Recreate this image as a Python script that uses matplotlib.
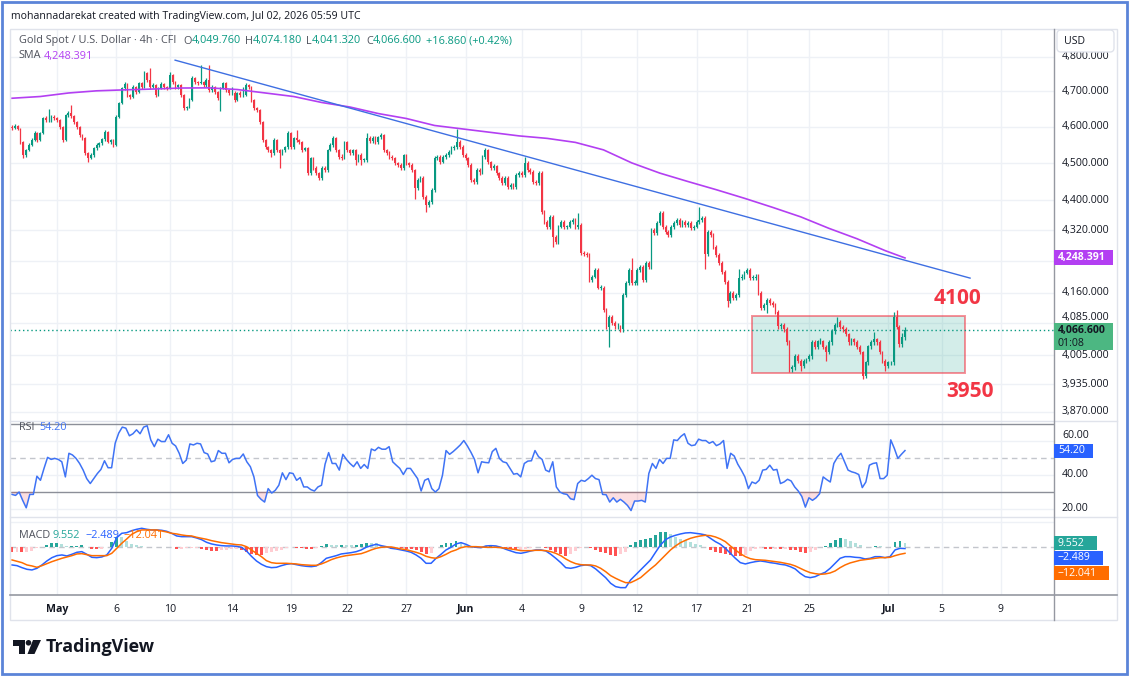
import numpy as np
import matplotlib
matplotlib.use("Agg")
import matplotlib.pyplot as plt
from matplotlib.patches import Rectangle, FancyBboxPatch, Polygon, Circle
from matplotlib.lines import Line2D
from matplotlib.ticker import NullLocator
from matplotlib.transforms import IdentityTransform

W, H = 1129, 676
plt.rcParams['font.family'] = ['Open Sans', 'DejaVu Sans']

# ---------------- data ----------------
first_open = 4599.7
last_open = 4049.76
closes = [
    4596.9, 4602.5, 4594.1, 4558.1, 4522.4, 4536.1, 4549.8, 4563.6, 4583.0, 4563.6,
    4583.0, 4624.8, 4619.2, 4619.2, 4627.7, 4624.8, 4619.2, 4599.7, 4563.6, 4633.3,
    4638.9, 4630.5, 4613.6, 4599.7, 4577.5, 4569.2, 4527.9, 4514.2, 4522.4, 4541.6,
    4549.8, 4555.3, 4566.4, 4585.8, 4558.1, 4563.6, 4549.8, 4627.7, 4667.1, 4709.7,
    4721.2, 4689.8, 4684.1, 4712.6, 4698.3, 4724.0, 4712.6, 4752.8, 4732.6, 4712.6,
    4718.3, 4689.8, 4709.7, 4721.2, 4712.6, 4709.7, 4747.0, 4726.9, 4712.6, 4718.3,
    4689.8, 4653.0, 4655.8, 4675.6, 4738.4, 4726.9, 4724.0, 4726.9, 4718.3, 4732.6,
    4704.0, 4712.6, 4698.3, 4681.3, 4709.7, 4724.0, 4704.0, 4695.5, 4695.5, 4675.6,
    4695.5, 4689.8, 4689.8, 4718.3, 4712.6, 4675.6, 4653.0, 4647.3, 4613.6, 4563.6,
    4544.3, 4536.1, 4527.9, 4563.6, 4536.1, 4527.9, 4536.1, 4544.3, 4583.0, 4544.3,
    4569.2, 4563.6, 4558.1, 4536.1, 4541.6, 4473.3, 4514.2, 4486.9, 4473.3, 4459.8,
    4486.9, 4481.5, 4536.1, 4549.8, 4569.2, 4536.1, 4516.9, 4514.2, 4558.1, 4536.1,
    4527.9, 4536.1, 4508.7, 4522.4, 4508.7, 4508.7, 4569.2, 4560.8, 4569.2, 4558.1,
    4572.0, 4577.5, 4536.1, 4527.9, 4516.9, 4514.2, 4500.5, 4495.1, 4486.9, 4522.4,
    4500.5, 4495.1, 4481.5, 4432.9, 4454.4, 4459.8, 4408.8, 4387.5, 4395.5, 4427.5,
    4514.2, 4516.9, 4503.3, 4516.9, 4522.4, 4530.6, 4541.6, 4544.3, 4558.1, 4544.3,
    4522.4, 4514.2, 4495.1, 4454.4, 4449.0, 4481.5, 4476.0, 4516.9, 4536.1, 4503.3,
    4486.9, 4492.3, 4473.3, 4459.8, 4446.3, 4459.8, 4435.6, 4441.0, 4435.6, 4467.9,
    4473.3, 4467.9, 4500.5, 4481.5, 4476.0, 4449.0, 4446.3, 4473.3, 4368.2, 4342.6,
    4329.5, 4355.0, 4303.4, 4290.4, 4329.5, 4342.6, 4329.5, 4329.5, 4342.6, 4347.9,
    4329.5, 4334.8, 4262.0, 4259.4, 4256.8, 4192.9, 4200.6, 4218.4, 4172.7, 4172.7,
    4117.5, 4072.9, 4100.1, 4085.2, 4075.4, 4075.4, 4068.0, 4155.0, 4185.3, 4218.4,
    4185.3, 4185.3, 4218.4, 4226.0, 4192.9, 4236.3, 4226.0, 4321.7, 4313.8, 4340.0,
    4365.5, 4329.5, 4316.5, 4308.6, 4329.5, 4340.0, 4347.9, 4334.8, 4342.6, 4334.8,
    4340.0, 4326.9, 4329.5, 4342.6, 4347.9, 4352.3, 4259.4, 4316.5, 4308.6, 4277.5,
    4256.8, 4236.3, 4213.3, 4187.9, 4140.0, 4160.1, 4147.5, 4155.0, 4198.0, 4200.6,
    4210.8, 4218.4, 4198.0, 4198.0, 4200.6, 4160.1, 4122.5, 4130.0, 4142.5, 4135.0,
    4130.0, 4112.5, 4075.4, 4080.3, 4068.0, 4036.1, 3970.7, 3975.5, 4002.1, 3990.0,
    3977.9, 3990.0, 3994.8, 4002.1, 4036.1, 4024.0, 4038.5, 4038.5, 4024.0, 4011.7,
    4036.1, 4063.1, 4080.3, 4087.7, 4072.9, 4068.0, 4055.7, 4036.1, 4043.4, 4036.1,
    4024.0, 4011.7, 3953.9, 3987.5, 4026.4, 4036.1, 4043.4, 4036.1, 4011.7, 3990.0,
    3977.9, 3987.5, 3987.5, 4100.1, 4072.9, 4031.2, 4049.8, 4066.6,
]
highs = [
    4604, 4607, 4606, 4597, 4561, 4540, 4554, 4568, 4588, 4586,
    4587, 4629, 4630, 4650, 4632, 4633, 4628, 4622, 4603, 4637,
    4644, 4661, 4633, 4617, 4603, 4580, 4572, 4531, 4527, 4545,
    4554, 4559, 4570, 4590, 4589, 4567, 4566, 4632, 4671, 4714,
    4727, 4724, 4693, 4717, 4716, 4728, 4727, 4758, 4756, 4767,
    4724, 4721, 4714, 4726, 4725, 4716, 4756, 4750, 4730, 4722,
    4721, 4693, 4660, 4680, 4743, 4742, 4730, 4776, 4730, 4737,
    4776, 4717, 4716, 4701, 4713, 4728, 4727, 4708, 4712, 4700,
    4699, 4700, 4712, 4723, 4722, 4716, 4679, 4657, 4651, 4617,
    4567, 4548, 4540, 4568, 4567, 4540, 4540, 4548, 4588, 4587,
    4573, 4591, 4567, 4561, 4545, 4545, 4518, 4517, 4491, 4477,
    4491, 4491, 4540, 4554, 4574, 4573, 4540, 4525, 4562, 4562,
    4540, 4540, 4540, 4526, 4527, 4514, 4583, 4574, 4574, 4574,
    4576, 4582, 4581, 4540, 4532, 4521, 4518, 4504, 4499, 4526,
    4526, 4504, 4499, 4485, 4459, 4464, 4464, 4413, 4400, 4432,
    4519, 4522, 4521, 4521, 4527, 4535, 4546, 4550, 4594, 4563,
    4549, 4527, 4518, 4499, 4460, 4486, 4486, 4521, 4541, 4540,
    4507, 4497, 4496, 4477, 4464, 4464, 4464, 4446, 4445, 4472,
    4478, 4478, 4517, 4505, 4486, 4480, 4454, 4478, 4478, 4373,
    4347, 4360, 4360, 4308, 4334, 4347, 4347, 4335, 4347, 4352,
    4352, 4366, 4339, 4266, 4264, 4261, 4205, 4223, 4222, 4178,
    4177, 4122, 4105, 4105, 4090, 4083, 4080, 4160, 4190, 4223,
    4247, 4192, 4223, 4231, 4231, 4241, 4241, 4326, 4327, 4345,
    4370, 4370, 4334, 4321, 4334, 4345, 4352, 4352, 4347, 4347,
    4345, 4345, 4334, 4347, 4382, 4357, 4357, 4321, 4321, 4313,
    4282, 4261, 4241, 4218, 4192, 4165, 4165, 4160, 4221, 4206,
    4215, 4223, 4223, 4204, 4206, 4206, 4165, 4135, 4147, 4147,
    4140, 4135, 4117, 4085, 4085, 4073, 4041, 3981, 4007, 4007,
    3995, 3995, 3999, 4007, 4041, 4041, 4043, 4046, 4043, 4029,
    4041, 4068, 4085, 4100, 4092, 4078, 4073, 4060, 4048, 4048,
    4041, 4029, 4016, 3992, 4031, 4041, 4063, 4048, 4041, 4016,
    3995, 3992, 3992, 4112, 4117, 4078, 4060, 4074.18,
]
lows = [
    4592, 4594, 4590, 4553, 4514, 4518, 4532, 4546, 4560, 4559,
    4560, 4580, 4615, 4614, 4615, 4620, 4615, 4595, 4558, 4560,
    4628, 4626, 4609, 4595, 4573, 4564, 4523, 4503, 4510, 4518,
    4537, 4545, 4551, 4562, 4554, 4553, 4545, 4546, 4624, 4663,
    4705, 4685, 4679, 4681, 4694, 4695, 4708, 4709, 4728, 4708,
    4709, 4685, 4686, 4706, 4708, 4705, 4706, 4722, 4708, 4707,
    4685, 4648, 4646, 4652, 4672, 4722, 4719, 4720, 4713, 4714,
    4699, 4699, 4693, 4676, 4644, 4706, 4699, 4690, 4690, 4670,
    4672, 4685, 4685, 4686, 4708, 4670, 4648, 4642, 4608, 4558,
    4539, 4531, 4517, 4523, 4531, 4486, 4522, 4531, 4540, 4539,
    4540, 4559, 4553, 4531, 4532, 4468, 4469, 4481, 4468, 4454,
    4455, 4476, 4477, 4532, 4545, 4531, 4512, 4509, 4510, 4531,
    4522, 4523, 4495, 4504, 4495, 4503, 4504, 4556, 4556, 4553,
    4553, 4567, 4531, 4522, 4512, 4509, 4495, 4490, 4481, 4482,
    4495, 4490, 4476, 4403, 4428, 4449, 4403, 4368, 4382, 4390,
    4423, 4509, 4498, 4499, 4512, 4518, 4526, 4537, 4539, 4539,
    4517, 4509, 4490, 4449, 4444, 4444, 4468, 4471, 4512, 4498,
    4482, 4482, 4468, 4455, 4441, 4441, 4430, 4431, 4430, 4431,
    4463, 4463, 4463, 4476, 4471, 4444, 4441, 4441, 4363, 4337,
    4324, 4324, 4277, 4285, 4285, 4325, 4324, 4324, 4325, 4337,
    4324, 4324, 4257, 4254, 4252, 4188, 4188, 4196, 4168, 4166,
    4112, 4068, 4026, 4080, 4070, 4070, 4063, 4063, 4150, 4180,
    4180, 4179, 4180, 4213, 4188, 4188, 4221, 4221, 4309, 4309,
    4335, 4324, 4311, 4303, 4303, 4324, 4335, 4330, 4330, 4330,
    4330, 4322, 4322, 4325, 4338, 4343, 4221, 4254, 4303, 4272,
    4252, 4231, 4208, 4183, 4125, 4135, 4142, 4142, 4150, 4193,
    4195, 4206, 4193, 4192, 4193, 4155, 4117, 4117, 4110, 4130,
    4125, 4107, 4070, 4070, 4063, 4031, 3965, 3965, 3970, 3985,
    3966, 3973, 3985, 3990, 3997, 4019, 4019, 4033, 4019, 3990,
    4007, 4031, 4058, 4075, 4068, 4063, 4051, 4031, 4031, 4031,
    4019, 4007, 3947, 3949, 3982, 4021, 4031, 4031, 4007, 3985,
    3966, 3973, 3982, 3982, 4068, 4026, 4026, 4041.32,
]

sma_step = 10
sma_vals = [4680.6, 4685.5, 4695.5, 4701.7, 4704.5, 4706.8, 4709.7, 4710.2, 4705.4, 4695.5,
            4685.5, 4668.5, 4655.7, 4637.4, 4623.4, 4603.9, 4594.2, 4584.6, 4574.9, 4568.0,
            4556.9, 4536.2, 4500.6, 4472.7, 4449.9, 4428.0, 4405.0, 4380.8, 4355.6, 4325.4,
            4298.1, 4267.2, 4248.391]

rsi_vals = [
    28.4, 27.8, 29.8, 24.9, 20.5, 28.4, 28.4, 39.1, 36.7, 43.7,
    50.2, 49.0, 49.6, 49.0, 47.6, 38.7, 52.6, 51.6, 49.6, 46.6,
    42.7, 37.7, 34.8, 37.7, 40.7, 43.1, 48.2, 44.1, 44.1, 58.5,
    64.5, 68.0, 67.4, 62.9, 64.1, 66.4, 64.1, 68.0, 68.8, 60.5,
    56.5, 60.9, 59.5, 59.5, 63.5, 58.5, 56.9, 52.6, 46.6, 48.6,
    58.1, 57.5, 58.5, 58.1, 53.0, 52.2, 47.6, 48.2, 54.2, 52.6,
    52.6, 47.0, 49.0, 49.6, 49.6, 52.2, 47.6, 44.7, 38.7, 27.8,
    25.5, 23.9, 31.8, 29.2, 30.8, 33.8, 41.1, 37.1, 41.1, 40.7,
    36.7, 38.3, 32.8, 32.8, 31.2, 30.4, 32.8, 33.8, 46.2, 53.0,
    46.6, 46.6, 42.7, 52.0, 49.0, 46.6, 44.7, 47.6, 43.7, 46.0,
    43.7, 55.1, 54.2, 56.1, 55.0, 55.0, 56.5, 47.6, 45.6, 43.7,
    40.1, 43.7, 43.7, 40.7, 37.7, 30.4, 36.7, 37.7, 31.8, 29.8,
    31.8, 39.7, 54.2, 52.0, 53.6, 55.5, 57.5, 60.1,
    56.9, 53.2, 49.0, 41.1, 47.6, 47.2, 47.0, 53.6, 55.5, 49.6,
    47.6, 47.0, 43.7, 40.3, 40.7, 38.7, 46.6, 48.0, 48.2, 54.2,
    50.6, 49.0, 42.7, 41.7, 47.6, 32.8, 29.8, 28.8, 28.4, 25.8,
    25.3, 34.8, 36.7, 36.1, 37.7, 39.7, 37.7, 37.1, 28.4, 28.2,
    23.9, 26.4, 23.9, 25.5, 23.9, 21.9, 18.9, 24.5, 24.5, 24.9,
    23.9, 40.7, 46.6, 43.7, 49.0, 46.6, 49.6, 49.6, 60.5, 60.1,
    62.5, 64.1, 58.5, 57.1, 57.5, 60.9, 60.1, 60.1, 58.5, 59.5,
    57.1, 58.1, 60.1, 43.7, 52.6, 51.0, 46.2, 42.7, 38.7, 31.8,
    35.7, 34.8, 36.7, 42.7, 43.1, 45.6, 42.7, 43.1, 34.8, 35.7,
    37.3, 36.3, 32.8, 30.4, 27.2, 20.9, 26.4, 24.9, 26.4, 28.8,
    38.7, 37.1, 35.7, 46.6, 50.2, 52.6, 47.6, 42.7, 41.7, 41.1,
    40.1, 32.4, 35.7, 45.6, 46.6, 47.0, 37.7, 37.7, 39.7, 60.5,
    55.5, 49.6, 52.0, 54.20,
]

macd_vals = [
    -35.3, -36.7, -40.7, -44.0, -45.3, -42.0, -35.3, -27.3, -20.7, -16.7,
    -15.3, -17.3, -14.0, -10.0, -8.7, -14.0, -20.0, -20.7, -19.3, -15.3,
    -2.0, 19.3, 28.0, 29.3, 33.3, 36.0, 38.0, 36.0, 34.7, 34.7,
    34.0, 32.0, 28.0, 22.7, 21.3, 21.3, 21.3, 18.7, 15.3, 10.0,
    6.7, 4.7, 3.3, 2.7, 2.7, 2.0, 0.0, -7.3, -18.0, -27.3,
    -34.0, -38.7, -40.7, -40.0, -36.7, -34.0, -32.7, -34.7, -36.7, -38.0,
    -38.7, -37.3, -30.7, -22.0, -19.3, -16.7, -13.3, -12.0, -10.7, -8.7,
    -5.3, 0.0, 3.3, 6.0, 3.3, 1.3, -2.0, -3.3, -5.3, -7.3,
    -10.0, -15.3, -22.0, -32.0, -32.0, -22.0, -14.0, -5.3, 0.0, 6.7,
    9.3, 6.0, 1.3, 0.0, -0.7, 2.7, 3.3, 2.7, 0.0, -4.0,
    -7.3, -10.7, -12.0, -10.0, -7.3, -5.3, -5.3, -7.3, -14.0, -22.0,
    -30.7, -40.7, -42.0, -40.0, -36.7, -35.3, -36.7, -43.3, -52.0, -60.7,
    -72.0, -78.7, -80.7, -80.7, -65.3, -55.3, -45.3, -35.3, -25.3, -10.0,
    4.7, 15.3, 20.7, 24.0, 26.7, 28.7, 29.3, 28.0, 26.7, 24.7,
    18.0, 11.3, 6.0, -2.0, -12.0, -22.0, -30.7, -33.3, -30.7, -28.7,
    -27.3, -28.7, -30.7, -32.0, -34.0, -35.3, -38.7, -43.3, -52.0, -58.7,
    -60.7, -58.7, -54.0, -50.0, -42.0, -32.0, -22.0, -18.7, -18.7, -20.0,
    -20.7, -23.3, -22.0, -18.7, -18.7, -20.7, -18.7, -5.3, -2.0, -2.489,
]
signal_vals = [
    -25.3, -28.0, -30.7, -35.3, -37.3, -40.0, -36.7, -32.7, -28.7, -25.3,
    -22.0, -19.3, -16.7, -13.3, -12.7, -14.7, -16.7, -16.7, -16.7, -16.7,
    -12.0, -2.0, 8.0, 16.7, 26.0, 31.3, 34.7, 34.7, 34.7, 34.7,
    32.7, 30.7, 28.0, 26.7, 24.7, 23.3, 22.7, 20.0, 18.0, 16.0,
    13.3, 11.3, 9.3, 8.0, 6.7, 5.3, 4.7, 1.3, -5.3, -12.0,
    -18.7, -26.7, -30.7, -32.0, -32.0, -32.0, -32.7, -33.3, -34.7, -35.3,
    -36.0, -36.0, -33.3, -29.3, -24.7, -21.3, -18.7, -16.7, -15.3, -14.0,
    -12.7, -9.3, -5.3, -2.0, 0.0, 0.7, 0.7, -1.3, -3.3, -4.7,
    -7.3, -10.0, -13.3, -18.0, -20.7, -22.0, -18.7, -14.0, -8.7, -5.3,
    -0.7, 1.3, 1.3, 1.3, 0.7, 0.0, 0.0, 0.0, -0.7, -2.0,
    -3.3, -4.7, -6.7, -6.7, -6.7, -6.0, -6.0, -6.7, -8.7, -12.0,
    -16.7, -23.3, -28.7, -32.7, -34.7, -35.3, -35.3, -37.3, -42.0, -48.7,
    -56.7, -62.0, -66.7, -70.7, -70.7, -66.0, -60.7, -52.0, -43.3, -35.3,
    -25.3, -15.3, -5.3, 2.7, 9.3, 14.0, 18.0, 20.7, 22.7, 24.0,
    23.3, 20.7, 16.7, 11.3, 2.7, -5.3, -12.7, -18.7, -22.7, -24.7,
    -25.3, -26.0, -27.3, -28.7, -30.0, -32.0, -34.0, -37.3, -42.0, -46.7,
    -50.7, -52.7, -54.0, -53.3, -51.3, -47.3, -40.7, -35.3, -31.3, -28.7,
    -26.0, -24.7, -23.3, -22.0, -20.7, -20.7, -20.0, -16.7, -14.0, -12.041,
]

date_labels = ['May', '6', '10', '14', '19', '22', '27', 'Jun', '4', '9', '12',
               '17', '21', '25', 'Jul', '5', '9']
date_bars = [16, 37, 56, 78, 99, 119, 140, 161, 181, 202, 222, 243, 261, 283, 311, 330, 351]
month_labels = ['May', 'Jun', 'Jul']
price_ticks = [4800, 4700, 4600, 4500, 4400, 4320, 4240, 4160, 4085, 4005, 3935, 3870]
hidden_price_labels = [4240]          # covered by the SMA value tag in the reference
raised_price_labels = [4085]          # partly covered by the last-price tag
rsi_ticks = [60, 40, 20]
raised_rsi_labels = [60]

trend_bars = [57.9, 340.1]
trend_prices = [4790.0, 4196.8]
zone_bars = [262.7, 338.3]
zone_prices = [3961.0, 4101.0]
zone_labels = [('4100', 335.8, 4146.0), ('3950', 340.0, 3918.6)]

legend_ohlc = [('O', '4,049.760'), ('H', '4,074.180'), ('L', '4,041.320'), ('C', '4,066.600')]
legend_change = '+16.860 (+0.42%)'
last_price = 4066.6
sma_last = 4248.391
rsi_last = '54.20'
macd_last = ('9.552', '\u22122.489', '\u221212.041')

# ---------------- style ----------------
UP = '#089981'
DOWN = '#F23645'
SMA_C = '#B33FF2'
GRID = '#eef1f6'
TXT = '#131722'
GRAY = '#4f525c'
BLUE = '#2962FF'
ORANGE = '#FF6D00'
TEAL = '#26A69A'
AX_FS = 7.6

fig = plt.figure(figsize=(W / 100, H / 100), dpi=100)
fig.patch.set_facecolor('white')
renderer = fig.canvas.get_renderer()


def px_ax(x0, y0, x1, y1):
    return fig.add_axes([x0 / W, 1 - y1 / H, (x1 - x0) / W, (y1 - y0) / H])


def ftext(x, y, s, **kw):
    kw.setdefault('va', 'center')
    kw.setdefault('ha', 'left')
    return fig.text(x / W, 1 - y / H, s, **kw)


def fit_text(x0, x1, y, s, **kw):
    t = ftext(x0, y, s, fontsize=10, **kw)
    w = t.get_window_extent(renderer).width
    t.set_fontsize(10 * (x1 - x0) / w)
    return t


def seq(x, y, s, **kw):
    t = ftext(x, y, s, **kw)
    return x + t.get_window_extent(renderer).width


def px_rect(x0, y0, x1, y1, fc, ec='none', lw=0, rounding=0, z=10):
    if rounding:
        p = FancyBboxPatch((x0, H - y1), x1 - x0, y1 - y0,
                           boxstyle=f'round,pad=0,rounding_size={rounding}',
                           transform=IdentityTransform(), fc=fc, ec=ec, lw=lw, zorder=z)
    else:
        p = Rectangle((x0, H - y1), x1 - x0, y1 - y0, transform=IdentityTransform(),
                      fc=fc, ec=ec, lw=lw, zorder=z)
    fig.add_artist(p)
    return p


def px_line(x0, y0, x1, y1, color, lw=1, z=9):
    fig.add_artist(Line2D([x0 / W, x1 / W], [1 - y0 / H, 1 - y1 / H],
                          transform=fig.transFigure, color=color, lw=lw, zorder=z))


def axis_labels(ax, values, fmt, hidden=(), raised=()):
    # labels of the right-hand scale, drawn at their values on the pane's y scale
    xa = (1062 - 10) / (1054 - 10)
    tr = ax.get_yaxis_transform()
    for v in values:
        if v in hidden:
            continue
        ax.text(xa, v, fmt(v), transform=tr, ha='left',
                va='bottom' if v in raised else 'center',
                fontsize=AX_FS, color=TXT, clip_on=False, zorder=6)


n = len(closes)
bars = np.arange(n)
c = np.array(closes, dtype=float)
o = np.r_[first_open, c[:-1]]
o[-1] = last_open
h = np.maximum(np.array(highs, dtype=float), np.maximum(o, c))
l = np.minimum(np.array(lows, dtype=float), np.minimum(o, c))
XL = (-0.71, 369.9)

main = px_ax(10, 29, 1054, 421)
rsi = px_ax(10, 421, 1054, 517)
macd = px_ax(10, 517, 1054, 595)
for ax in (main, rsi, macd):
    for s in ax.spines.values():
        s.set_visible(False)
    ax.set_xlim(*XL)
    ax.tick_params(length=0)
    ax.set_yticks([])
    for b in date_bars:
        ax.axvline(b, color=GRID, lw=1, zorder=0)

# ---- main pane ----
main.set_yscale('log')
main.set_ylim(3848.3, 4881.4)
main.yaxis.set_minor_locator(NullLocator())
main.yaxis.set_major_locator(NullLocator())
main.set_xticks([])
for p in price_ticks:
    main.axhline(p, color=GRID, lw=1, zorder=0)
axis_labels(main, price_ticks, lambda v: f'{v:,.3f}', hidden_price_labels, raised_price_labels)

main.add_patch(Rectangle((zone_bars[0], zone_prices[0]), zone_bars[1] - zone_bars[0],
                         zone_prices[1] - zone_prices[0],
                         fc=(0.05, 0.62, 0.52, 0.18), ec=(0.95, 0.21, 0.27, 0.55),
                         lw=1.4, zorder=1))
main.axhline(last_price, color=UP, lw=1, ls=(0, (1, 2)), zorder=1)

cols = np.where(c >= o, UP, DOWN)
main.vlines(bars, l, h, colors=cols, lw=0.9, zorder=3)
blo = np.minimum(o, c)
bhi = np.maximum(np.maximum(o, c), blo + 1.2)
main.bar(bars, bhi - blo, bottom=blo, width=0.62, color=cols, lw=0, zorder=4)

sma_bars = list(range(0, n, sma_step))[:len(sma_vals) - 1] + [n - 1]
main.plot(sma_bars, sma_vals, color=SMA_C, lw=1.2, zorder=5)
main.plot(trend_bars, trend_prices, color='#3e6fe2', lw=1.0, zorder=5)
for s, bx, py in zone_labels:
    main.text(bx, py, s, color=DOWN, fontsize=15, fontweight='bold',
              ha='center', va='center', zorder=6)

# ---- RSI pane ----
rsi.set_ylim(15.1, 71.6)
xr = np.linspace(0, n - 1, len(rsi_vals))
rv = np.array(rsi_vals)
for g in rsi_ticks:
    rsi.axhline(g, color=GRID, lw=1, zorder=0)
rsi.axhline(70, color='#8c8f98', lw=1, zorder=1)
rsi.axhline(30, color='#8c8f98', lw=1, zorder=1)
rsi.axhline(50, color='#c3c6cc', lw=1, ls=(0, (4, 3)), zorder=1)
rsi.fill_between(xr, rv, 30, where=rv < 30, interpolate=True, color=DOWN, alpha=0.16, lw=0)
rsi.plot(xr, rv, color='#3f73f5', lw=1.1, zorder=3)
rsi.set_xticks([])
axis_labels(rsi, rsi_ticks, lambda v: f'{v:.2f}', (), raised_rsi_labels)

# ---- MACD pane ----
macd.set_ylim(-95.4, 60.6)
xm = np.linspace(0, n - 1, len(macd_vals))
mv = np.array(macd_vals)
sv = np.array(signal_vals)
hist = mv - sv
hcols = []
for i, v in enumerate(hist):
    prev = hist[i - 1] if i else v
    if v >= 0:
        hcols.append('#26A69A' if v >= prev else '#B2DFDB')
    else:
        hcols.append('#FF5252' if v <= prev else '#FFCDD2')
macd.axhline(50, color=GRID, lw=1, zorder=0)
macd.axhline(0, color='#c3c6cc', lw=1, ls=(0, (4, 3)), zorder=1)
macd.bar(xm, hist, width=1.05, color=hcols, lw=0, zorder=2)
macd.plot(xm, mv, color=BLUE, lw=1.1, zorder=3)
macd.plot(xm, sv, color=ORANGE, lw=1.1, zorder=3)
macd.set_xticks(date_bars)
macd.set_xticklabels(date_labels)
macd.tick_params(axis='x', pad=6.5, labelsize=AX_FS, labelcolor=TXT)
for lab in macd.get_xticklabels():
    if lab.get_text() in month_labels:
        lab.set_fontweight('bold')

# ---- frames and separators ----
px_rect(10, 29, 1117, 620, fc='none', ec='#e0e3eb', lw=1, z=8)
px_line(10, 421, 1117, 421, '#e0e3eb')
px_line(10, 517, 1117, 517, '#e0e3eb')
px_line(10, 595, 1117, 595, '#9598a1', lw=1.2)
px_line(1054, 29, 1054, 620, '#9598a1', lw=1.0)
px_rect(1.5, 1.5, 1127, 674, fc='none', ec='#5b84d8', lw=2, z=20)

# ---- header / legends ----
fit_text(11.4, 360.7, 16, 'mohannadarekat created with TradingView.com, Jul 02, 2026 05:59 UTC',
         color=TXT)
t = fit_text(18.6, 176, 41, 'Gold Spot / U.S. Dollar \u00b7 4h \u00b7 CFI', color=GRAY)
fs = t.get_fontsize()
for (k, v), x0 in zip(legend_ohlc, [183, 245, 306, 366]):
    x = seq(x0, 41, k, color=GRAY, fontsize=fs)
    seq(x, 41, v, color=UP, fontsize=fs)
seq(426, 41, legend_change, color=UP, fontsize=fs)
seq(18.6, 56, 'SMA', color=GRAY, fontsize=fs)
seq(44, 56, f'{sma_last:,.3f}', color=SMA_C, fontsize=fs)
seq(18.7, 427, 'RSI', color=GRAY, fontsize=fs)
seq(39.7, 427, rsi_last, color='#3f73f5', fontsize=fs)
seq(18.7, 536, 'MACD', color=GRAY, fontsize=fs)
for v, x0, col in zip(macd_last, [52.3, 85.7, 123], [TEAL, BLUE, ORANGE]):
    seq(x0, 536, v, color=col, fontsize=fs)

# ---- right axis value tags ----
px_rect(1057, 30, 1114, 52, fc='white', ec='#e0e3eb', lw=1, rounding=4, z=10)
ftext(1064, 41, 'USD', fontsize=AX_FS, color=TXT, zorder=11)
px_rect(1054, 250, 1113, 265, fc=SMA_C, z=10)
ftext(1058, 257.5, f'{sma_last:,.3f}', fontsize=AX_FS, color='white', fontweight='bold', zorder=11)
px_rect(1054, 323, 1113, 350, fc='#4cb782', z=10)
ftext(1058, 330.5, f'{last_price:,.3f}', fontsize=AX_FS, color=TXT, fontweight='bold', zorder=11)
ftext(1058, 343, '01:08', fontsize=AX_FS, color=TXT, zorder=11)
px_rect(1054, 443.5, 1093, 457.5, fc=BLUE, z=10)
ftext(1058, 450.5, rsi_last, fontsize=AX_FS, color='white', zorder=11)
for (v, col), (y0, y1) in zip(zip(macd_last, [TEAL, BLUE, ORANGE]),
                              [(536, 550), (550.5, 565), (566, 580)]):
    px_rect(1054, y0, 1054 + 12 + 6.2 * len(v), y1, fc=col, z=10)
    ftext(1058, (y0 + y1) / 2, v, fontsize=AX_FS, color='white', zorder=11)

# ---- TradingView logo ----
fig.add_artist(Polygon([(13, H - 640), (25, H - 640), (25, H - 654), (19, H - 654),
                        (19, H - 645.5), (13, H - 645.5)], closed=True,
                       transform=IdentityTransform(), fc='#131722', ec='none', zorder=12))
fig.add_artist(Circle((28.5, H - 642.8), 2.8, transform=IdentityTransform(),
                      fc='#131722', ec='none', zorder=12))
fig.add_artist(Polygon([(33, H - 640), (41, H - 640), (34.5, H - 654), (27.5, H - 654)],
                       closed=True, transform=IdentityTransform(), fc='#131722',
                       ec='none', zorder=12))
fit_text(46, 155, 647, 'TradingView', color='#131722', fontweight='bold')

fig.savefig('out.png', dpi=100, facecolor='white')
